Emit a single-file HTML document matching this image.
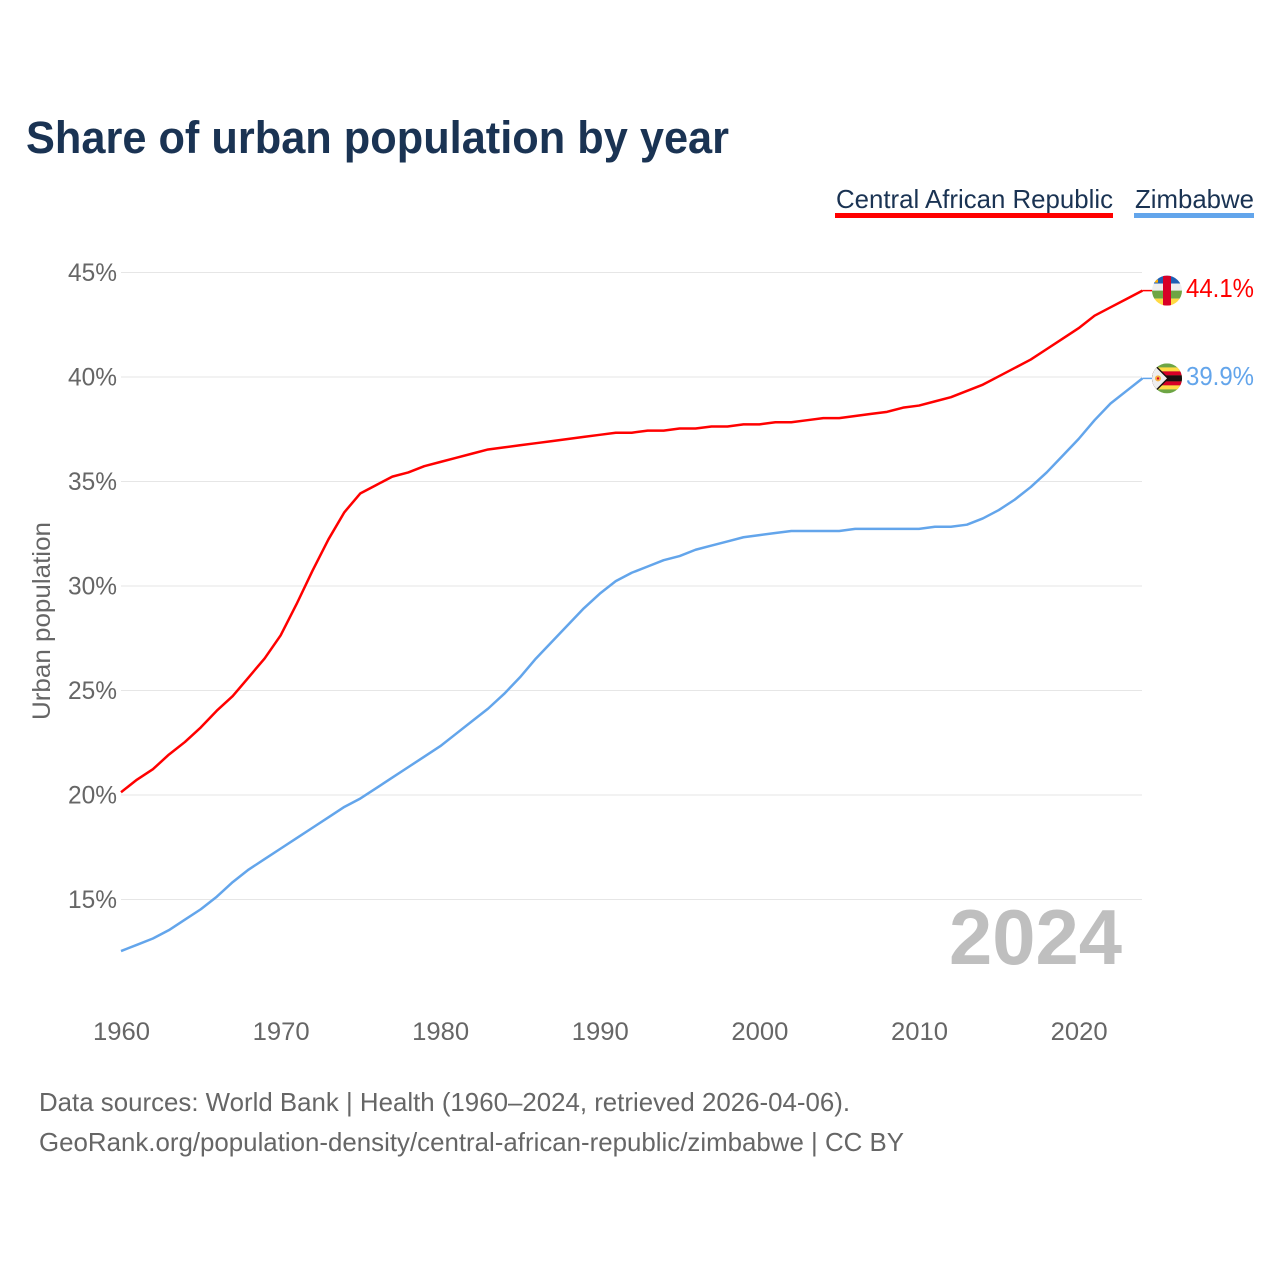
<!DOCTYPE html>
<html lang="en">
<head>
<meta charset="utf-8">
<title>Share of urban population by year</title>
<style>
html,body{margin:0;padding:0;background:#fff;}
svg{display:block;font-family:"Liberation Sans",sans-serif;}
</style>
</head>
<body>
<svg id="chart" width="1280" height="1280" viewBox="0 0 1280 1280" xmlns="http://www.w3.org/2000/svg">
  <rect width="1280" height="1280" fill="#fff"/>
  <text x="26" y="153" font-size="45" font-weight="700" fill="#1a3353" textLength="703" lengthAdjust="spacingAndGlyphs">Share of urban population by year</text>
  <g>
    <text x="836" y="208" font-size="26" fill="#1a3353" textLength="277" lengthAdjust="spacingAndGlyphs">Central African Republic</text>
    <rect x="835" y="213" width="278" height="5" fill="#ff0000"/>
  </g>
  <g>
    <text x="1135" y="208" font-size="26" fill="#1a3353" textLength="119" lengthAdjust="spacingAndGlyphs">Zimbabwe</text>
    <rect x="1134" y="213" width="120" height="5" fill="#63a5eb"/>
  </g>
  <text transform="translate(50,621) rotate(-90)" text-anchor="middle" font-size="25" fill="#666" textLength="198" lengthAdjust="spacingAndGlyphs">Urban population</text>
  <g id="grid"></g>
  <g id="yticks"></g>
  <g id="xticks"></g>
  <text x="1122" y="964" text-anchor="end" font-size="78" font-weight="700" fill="#bfbfbf" textLength="173" lengthAdjust="spacingAndGlyphs">2024</text>
  <g id="series"></g>
  <defs>
    <clipPath id="flag-clip"><circle cx="0" cy="0" r="15"/></clipPath>
  </defs>
  <g id="flag-car" clip-path="url(#flag-clip)">
    <rect x="-15" y="-15" width="30" height="8" fill="#1f5fb4"/>
    <rect x="-15" y="-7" width="30" height="7" fill="#eeeeee"/>
    <rect x="-15" y="0" width="30" height="8" fill="#6da544"/>
    <rect x="-15" y="8" width="30" height="7" fill="#ffda44"/>
    <rect x="-4" y="-15" width="8" height="30" fill="#d80027"/>
    <rect x="-12" y="-11" width="3" height="3" fill="#ffb000"/>
  </g>
  <g id="flag-zwe" clip-path="url(#flag-clip)">
    <rect x="-15" y="-15" width="30" height="30" fill="#6da544"/>
    <rect x="-15" y="-11" width="30" height="4" fill="#ffda44"/>
    <rect x="-15" y="-7" width="30" height="4" fill="#d80027"/>
    <rect x="-15" y="-3" width="30" height="6" fill="#1a1110"/>
    <rect x="-15" y="3" width="30" height="4" fill="#d80027"/>
    <rect x="-15" y="7" width="30" height="4" fill="#ffda44"/>
    <polygon points="-15,-15 -13,-15 2,0 -13,15 -15,15" fill="#1a1110"/>
    <polygon points="-15,-13 -13,-13 0,0 -13,13 -15,13" fill="#eeeeee"/>
    <circle cx="-9" cy="0" r="3" fill="#f5b041"/>
    <circle cx="-9" cy="0" r="1.2" fill="#d80027"/>
  </g>
  <text id="label-car" x="1186" font-size="25.5" fill="#ff0000" textLength="68" lengthAdjust="spacingAndGlyphs"></text>
  <text id="label-zwe" x="1186" font-size="25.5" fill="#63a5eb" textLength="68" lengthAdjust="spacingAndGlyphs"></text>
  <text x="39" y="1111" font-size="26" fill="#666" textLength="811" lengthAdjust="spacingAndGlyphs">Data sources: World Bank | Health (1960–2024, retrieved 2026-04-06).</text>
  <text x="39" y="1151" font-size="26" fill="#666" textLength="865" lengthAdjust="spacingAndGlyphs">GeoRank.org/population-density/central-african-republic/zimbabwe | CC BY</text>
</svg>
<script>
const startYear = 1960;
const yTicks = [15, 20, 25, 30, 35, 40, 45];
const xTicks = [1960, 1970, 1980, 1990, 2000, 2010, 2020];
const carValues = [20.1,20.7,21.2,21.9,22.5,23.2,24.0,24.7,25.6,26.5,27.6,29.1,30.7,32.2,33.5,34.4,34.8,35.2,35.4,35.7,35.9,36.1,36.3,36.5,36.6,36.7,36.8,36.9,37.0,37.1,37.2,37.3,37.3,37.4,37.4,37.5,37.5,37.6,37.6,37.7,37.7,37.8,37.8,37.9,38.0,38.0,38.1,38.2,38.3,38.5,38.6,38.8,39.0,39.3,39.6,40.0,40.4,40.8,41.3,41.8,42.3,42.9,43.3,43.7,44.1];
const zweValues = [12.5,12.8,13.1,13.5,14.0,14.5,15.1,15.8,16.4,16.9,17.4,17.9,18.4,18.9,19.4,19.8,20.3,20.8,21.3,21.8,22.3,22.9,23.5,24.1,24.8,25.6,26.5,27.3,28.1,28.9,29.6,30.2,30.6,30.9,31.2,31.4,31.7,31.9,32.1,32.3,32.4,32.5,32.6,32.6,32.6,32.6,32.7,32.7,32.7,32.7,32.7,32.8,32.8,32.9,33.2,33.6,34.1,34.7,35.4,36.2,37.0,37.9,38.7,39.3,39.9];

const NS = 'http://www.w3.org/2000/svg';
function xScale(year) { return 121 + (year - startYear) * 15.96; }
function yScale(v) { return 272.5 + (45 - v) * 20.9; }
function lineY(v) { return yScale(v) - 0.7; }
function make(tag, attrs, parent) {
  const el = document.createElementNS(NS, tag);
  for (const k in attrs) el.setAttribute(k, attrs[k]);
  parent.appendChild(el);
  return el;
}

const grid = document.getElementById('grid');
const yTickGroup = document.getElementById('yticks');
const xTickGroup = document.getElementById('xticks');
const seriesGroup = document.getElementById('series');

yTicks.forEach(function (t) {
  const line = make('line', {x1: 121, x2: 1142, y1: yScale(t), y2: yScale(t), stroke: '#e6e6e6', 'stroke-width': 1}, grid);
  
  
  const label = make('text', {x: 117, y: yScale(t) + 8.5, 'text-anchor': 'end', 'font-size': 25, fill: '#666', textLength: 49, lengthAdjust: 'spacingAndGlyphs'}, yTickGroup);
  
  
  label.textContent = t + '%';
});

xTicks.forEach(function (t) {
  const label = make('text', {x: xScale(t) + 0.5, y: 1040, 'text-anchor': 'middle', 'font-size': 25, fill: '#666', textLength: 57, lengthAdjust: 'spacingAndGlyphs'}, xTickGroup);
  
  
  label.textContent = t;
});

function drawSeries(values, color, name, flagId, labelId) {
  const pts = values.map(function (v, i) { return xScale(startYear + i).toFixed(2) + ',' + lineY(v).toFixed(2); });
  const lastV = values[values.length - 1];
  const lastY = lineY(lastV);
  const lastX = xScale(startYear + values.length - 1);
  const line = make('polyline', {points: pts.join(' '), fill: 'none', stroke: color, 'stroke-width': 2.5, 'stroke-linejoin': 'round'}, seriesGroup);
  
  
  const stub = make('line', {x1: lastX, x2: lastX + 10, y1: lastY, y2: lastY, stroke: color, 'stroke-width': 1.5}, seriesGroup);
  
  
  document.getElementById(flagId).setAttribute('transform', 'translate(1167,' + lastY.toFixed(2) + ')');
  const label = document.getElementById(labelId);
  label.setAttribute('y', (lastY + 6.5).toFixed(2));
  label.textContent = lastV.toFixed(1) + '%';
}

drawSeries(carValues, '#ff0000', 'line-central-african-republic', 'flag-car', 'label-car');
drawSeries(zweValues, '#63a5eb', 'line-zimbabwe', 'flag-zwe', 'label-zwe');
</script>
</body>
</html>
